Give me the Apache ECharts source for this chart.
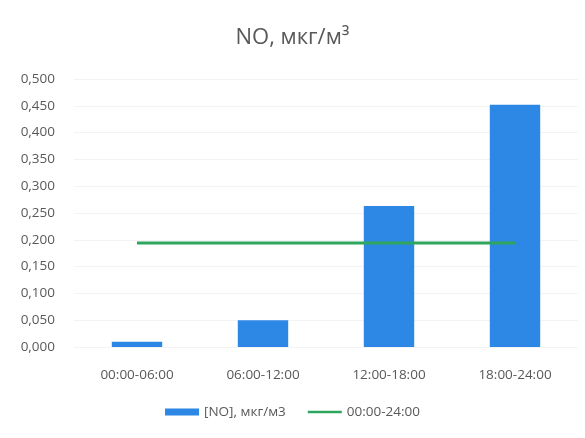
<!DOCTYPE html>
<html><head><meta charset="utf-8">
<script src="https://cdn.jsdelivr.net/npm/echarts@6/dist/echarts.min.js"></script>
<style>html,body{margin:0;padding:0;background:#fff}#c{width:585px;height:438px}</style>
</head><body><div id="c"></div>
<script>
const categories = ['00:00-06:00', '06:00-12:00', '12:00-18:00', '18:00-24:00'];
const noValues = [0.010, 0.050, 0.263, 0.452];
const dayAvg = [0.194, 0.194, 0.194, 0.194];
const barName = '[NO], мкг/м3';
const lineName = '00:00-24:00';
const titleText = 'NO, мкг/м³';

const chart = echarts.init(document.getElementById('c'));
const font = '"Open Sans", "Noto Sans", sans-serif';
chart.setOption({
  backgroundColor: '#ffffff',
  animation: false,
  title: { text: titleText, left: 'center', top: 22,
    textStyle: { fontFamily: font, fontSize: 22, fontWeight: 'normal', color: '#595959' } },
  grid: { left: 74, right: 7, top: 79, height: 268 },
  legend: { top: 400, left: 'center', itemWidth: 34, itemHeight: 7, itemGap: 22,
    textStyle: { fontFamily: font, fontSize: 13.5, color: '#595959' },
    data: [ { name: barName, icon: 'rect' },
            { name: lineName, icon: 'path://M0,0H34V2.5H0Z', itemStyle: { color: '#2ea65e' } } ] },
  xAxis: { type: 'category', data: categories,
    axisLine: { show: false }, axisTick: { show: false },
    axisLabel: { fontFamily: font, fontSize: 13.5, color: '#595959', margin: 21 } },
  yAxis: { type: 'value', min: 0, max: 0.5, interval: 0.05,
    axisLine: { show: false }, axisTick: { show: false },
    splitLine: { lineStyle: { color: '#f3f3f3' } },
    axisLabel: { fontFamily: font, fontSize: 13.5, color: '#595959', margin: 19,
      formatter: v => v.toFixed(3).replace('.', ',') } },
  series: [
    { name: barName, type: 'bar', data: noValues, barWidth: '40%',
      itemStyle: { color: '#2d87e4' } },
    { name: lineName, type: 'line', data: dayAvg, symbol: 'none',
      lineStyle: { color: '#2ea65e', width: 3 }, itemStyle: { color: '#2ea65e' } }
  ]
});
</script></body></html>
